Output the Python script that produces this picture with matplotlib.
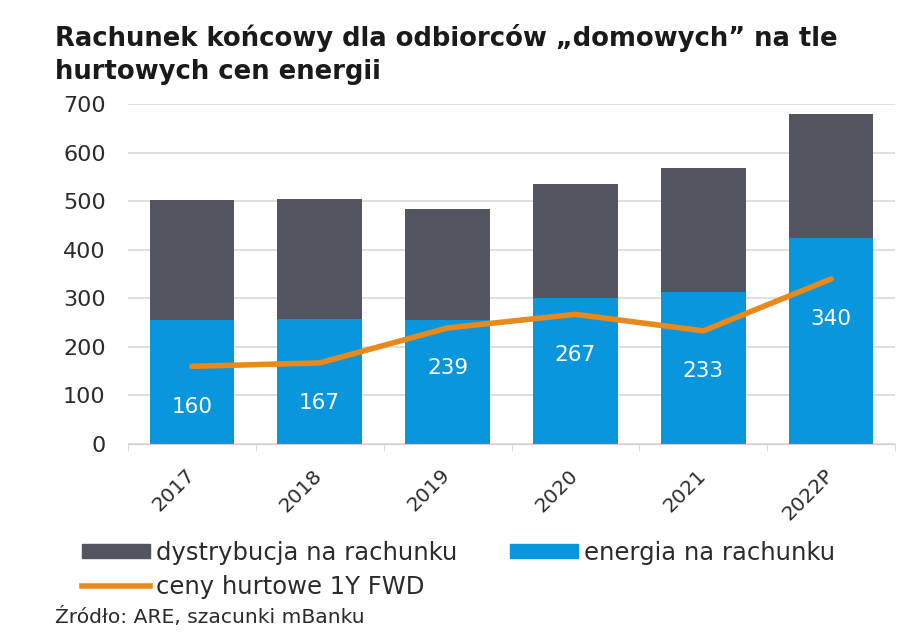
import numpy as np
import matplotlib
matplotlib.use("Agg")
from matplotlib import pyplot as plt
from matplotlib.patches import Patch
from matplotlib.lines import Line2D
from matplotlib.transforms import ScaledTranslation

plt.rcParams['font.family'] = ['DejaVu Sans']

years = ['2017', '2018', '2019', '2020', '2021', '2022P']
energia = [256, 257, 256, 300, 314, 424]
dystrybucja = [247, 247, 228, 236, 254, 256]
ceny_hurtowe = [160, 167, 239, 267, 233, 340]

c_dark = '#52545f'
c_blue = '#0996dc'
c_orange = '#e8891c'
c_text = '#2b2b2b'

fig = plt.figure(figsize=(9.2, 6.38), dpi=100)
ax = fig.add_axes([0.139, 0.304, 0.834, 0.533])

x = np.arange(len(years))
ax.bar(x, energia, width=0.66, color=c_blue, zorder=2)
ax.bar(x, dystrybucja, width=0.66, bottom=energia, color=c_dark, zorder=2)
ax.plot(x, ceny_hurtowe, color=c_orange, lw=4, solid_capstyle='round', zorder=3)

# etykiety wartosci ceny hurtowej wewnatrz slupkow
for xi, v in zip(x, ceny_hurtowe):
    ax.text(xi, v - 83, str(v), color='white', ha='center', va='center', fontsize=15.5, zorder=4)

ax.set_xlim(-0.5, len(years) - 0.5)
ax.set_ylim(0, 700)
ax.set_yticks(range(0, 701, 100))
ax.yaxis.grid(True, color='#d9d9d9', lw=1.2, zorder=0)
ax.set_axisbelow(True)
for s in ['top', 'right', 'left']:
    ax.spines[s].set_visible(False)
ax.spines['bottom'].set_color('#d0d0d0')
ax.tick_params(axis='y', length=0, labelsize=16, labelcolor=c_text, pad=16)

ax.set_xticks(x)
ax.set_xticklabels(years, rotation=45, ha='right', rotation_mode='anchor', fontsize=14.5, color=c_text)
ax.tick_params(axis='x', length=0, pad=14)
ax.set_xticks(np.arange(-0.5, len(years), 1), minor=True)
ax.tick_params(axis='x', which='minor', length=5, color='#d0d0d0')
shift = ScaledTranslation(-7 / 100, -2 / 100, fig.dpi_scale_trans)
for lab in ax.get_xticklabels():
    lab.set_transform(lab.get_transform() + shift)

fig.text(0.06, 0.914, 'Rachunek końcowy dla odbiorców „domowych” na tle\nhurtowych cen energii',
         fontsize=18.6, fontweight='bold', color='#1a1a1a', va='center', linespacing=1.35)

handles = [Patch(color=c_dark), Line2D([], [], color=c_orange, lw=4),
           Patch(color=c_blue)]
labels = ['dystrybucja na rachunku', 'ceny hurtowe 1Y FWD', 'energia na rachunku']
fig.legend(handles, labels, loc='upper left', bbox_to_anchor=(0.089, 0.152), ncol=2,
           frameon=False, fontsize=17.5, handlelength=2.8, handleheight=0.5,
           handletextpad=0.25, columnspacing=2.15, labelspacing=0.4, labelcolor=c_text,
           borderpad=0, borderaxespad=0)

fig.text(0.06, 0.033, 'Źródło: ARE, szacunki mBanku', fontsize=14.6, color=c_text, va='center')

fig.savefig('out.png', dpi=100)
